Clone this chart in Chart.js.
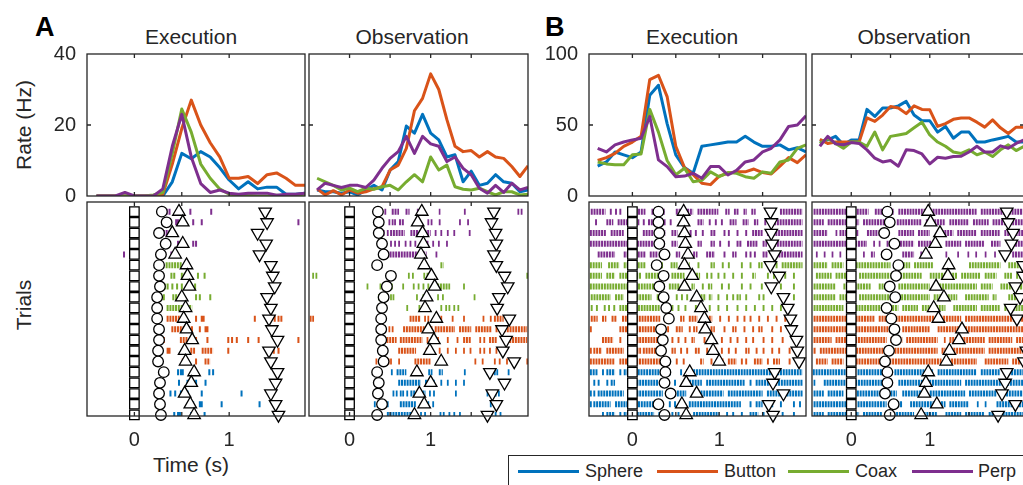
<!DOCTYPE html>
<html lang="en">
<head>
<meta charset="UTF-8">
<title>Execution / Observation</title>
<script src="https://cdn.jsdelivr.net/npm/chart.js"></script>
<style>
  html, body { margin: 0; padding: 0; overflow: hidden; background: #fff; }
  body { position: relative; width: 1023px; height: 485px; font-family: "Liberation Sans", Arial, sans-serif; color: #262626; }
  canvas { position: absolute; }
  .txt { position: absolute; white-space: nowrap; line-height: 1; }
  .title { font-size: 21px; top: 26px; transform: translateX(-50%); }
  .letter { font-size: 27px; font-weight: bold; top: 14px; color: #000; }
  .rot { font-size: 21px; transform: translate(-50%, -50%) rotate(-90deg); }
  .legend { position: absolute; left: 508px; top: 455px; width: 600px; height: 60px; border: 1px solid #262626; box-sizing: border-box; }
  .legend span.line { position: absolute; top: 14px; height: 3px; width: 61px; }
  .legend span.lbl { position: absolute; top: 6px; font-size: 18px; line-height: 1; }
</style>
</head>
<body>
  <div class="txt letter" style="left:35px">A</div>
  <div class="txt letter" style="left:545px">B</div>
  <div class="txt title" style="left:191px">Execution</div>
  <div class="txt title" style="left:412px">Observation</div>
  <div class="txt title" style="left:692px">Execution</div>
  <div class="txt title" style="left:914px">Observation</div>
  <div class="txt rot" style="left:23px; top:125px">Rate (Hz)</div>
  <div class="txt rot" style="left:23px; top:305px">Trials</div>
  <div class="txt" style="left:191px; top:454px; font-size:21px; transform:translateX(-50%)">Time (s)</div>
  <div class="legend">
    <span class="line" style="left:9px; background:#0072BD"></span><span class="lbl" style="left:76px">Sphere</span>
    <span class="line" style="left:148px; background:#D95319"></span><span class="lbl" style="left:215px">Button</span>
    <span class="line" style="left:279px; background:#77AC30"></span><span class="lbl" style="left:346px">Coax</span>
    <span class="line" style="left:403px; background:#7E2F8E"></span><span class="lbl" style="left:469px">Perp</span>
  </div>

<script>
// conditions: Sphere, Button, Coax, Perp
const colors = ['#0072BD', '#D95319', '#77AC30', '#7E2F8E'];

// PSTH time bins (s)
const tExecA = [-0.4,-0.3,-0.2,-0.1,0,0.1,0.2,0.3,0.4,0.5,0.6,0.7,0.8,0.9,1.0,1.1,1.2,1.3,1.4,1.5,1.6,1.7,1.8];
const tObs = [-0.4,-0.3,-0.2,-0.1,0,0.1,0.2,0.3,0.4,0.5,0.6,0.7,0.8,0.9,1.0,1.1,1.2,1.3,1.4,1.5,1.6,1.7,1.8,1.9,2.0,2.1,2.2];
const tExecB = [-0.4,-0.3,-0.2,-0.1,0,0.1,0.2,0.3,0.4,0.5,0.6,0.7,0.8,0.9,1.0,1.1,1.2,1.3,1.4,1.5,1.6,1.7,1.8,1.9,2.0];

// firing rates (Hz)
const rateExecA = [
  [0,0,0,0,0,0,0,0,4,12,10.5,12.5,11,8,4.5,2,4,2,2.5,2.5,0.5,0.5,0.8],
  [0,0,0,0,0,0,0,0.5,9,19,27,20,15,11,5,5,5.5,3.5,6,6.5,5,3,3],
  [0,0,0,0,0,0,0.3,1,12,24.5,18,9,5,2,0.5,0.3,0.2,0,0,0.2,0,0.3,0.5],
  [0,0,0,1,0,0,0,2,14,23,11,3.5,1,1.7,0.8,0.5,0.8,0.8,0.8,0.2,0.5,0.5,0.8]
];
const rateObsA = [
  [1.7,1.2,1.2,0.8,1.2,0.3,1.7,3,1.7,7.3,9.7,19.7,17.7,23,17.7,15.8,11,11.6,4,7,3,3.6,6,4,3.6,1.2,1.7],
  [2,0.3,1.5,0.3,1.7,0.8,1.2,2,2.6,7.3,8.7,13.4,24,27.5,34.4,30,21.5,14,12.5,12.8,11,12.5,11,10.6,8.3,5.5,8.5],
  [5,4,3,1.7,2.2,1.2,2.2,1.9,2.6,3,1.7,4,6,4,11,7.3,8.7,2.6,1.9,1.7,2.2,1.2,0.3,1.2,1.2,0.3,0.5],
  [1.7,3.6,3,2.4,3,3,2.4,4.5,7.8,10.6,12.5,16.8,12,16.8,14.7,14,9.7,11,7.8,6,2.2,0.8,3,1,3.6,1.7,2.4]
];
const rateExecB = [
  [21,24,31,29,27,31,71,78,51,29,20,16,35,36,37,38,38,42,38,35,35,36,32.5,34,31],
  [25,27,30,35,38,42,82,85,70,35,20,15,9,8,14,16,17,17,19,16.5,15.5,21,27,23.5,29],
  [24,22.6,22,22,29,29.6,61,45,25,15,19.5,10,11,17,13.6,16.5,16,13.6,12.5,17,16,24,25.4,33.6,36],
  [33.6,31,36,38,39.5,40.7,56,25.4,20.7,13.6,14,16,12.5,20.7,20.7,14.8,18,24,25.4,31,33.6,39.5,49,50,56.5]
];
const rateObsB = [
  [38,39.5,42,36,39.5,39.5,61,56,62,62,63.5,66.6,57,53,53,45,49,40.7,45,45,38,38,39.5,40.7,42,38,38],
  [40,37,38,38,38,38,55,52.5,57,63,62,58,63.5,61,60.7,49,51,54,55,55,52,48.5,53.6,48,44,48.5,48.5],
  [37,40.7,37,33.6,38,38,35,45,32.5,42,43,44,48,52,43,38,35,31,30,32.5,29,31,27.8,32.5,36,32,35],
  [35,42,36.7,36,37.6,37,32.5,26.6,24,25,21,32.5,32,29.6,22.6,27.3,26.6,27.8,28,31,35,31,31,35.3,33.6,37,39.5]
];

// raster: condition of each trial row, top to bottom
const rowCond = [3,3,3,3,3,2,2,2,2,2,1,1,1,1,1,0,0,0,0,0];
// event markers per trial (s), top to bottom
const cueTimes = [0,0,0,0,0,0,0,0,0,0,0,0,0,0,0,0,0,0,0,0];
const circExecA = [0.29,0.34,0.26,0.33,0.28,0.26,0.26,0.27,0.24,0.24,0.24,0.26,0.26,0.25,0.25,0.31,0.27,0.26,0.27,0.28];
const upExecA = [0.47,0.51,0.40,0.51,0.43,0.55,0.56,0.58,0.50,0.54,0.52,0.55,0.61,0.53,0.54,0.63,0.60,0.53,0.59,0.63];
const downExecA = [1.38,1.40,1.30,1.39,1.32,1.44,1.46,1.48,1.40,1.44,1.42,1.45,1.51,1.42,1.44,1.51,1.49,1.44,1.49,1.52];
const circObsA = [0.35,0.36,0.36,0.40,0.42,0.34,0.51,0.46,0.42,0.40,0.39,0.39,0.39,0.41,0.42,0.34,0.36,0.35,0.40,0.34];
const upObsA = [0.89,0.84,0.90,0.91,0.88,0.92,1.01,1.05,0.95,0.93,1.07,0.97,1.04,0.99,1.13,0.83,1.00,0.86,0.92,0.80];
const downObsA = [1.78,1.75,1.80,1.81,1.78,1.81,1.91,1.95,1.84,1.82,1.97,1.88,1.93,1.89,2.03,1.73,1.91,1.76,1.81,1.70];
const circExecB = [0.30,0.30,0.31,0.31,0.37,0.28,0.36,0.31,0.36,0.39,0.42,0.33,0.35,0.33,0.38,0.38,0.37,0.44,0.30,0.37];
const upExecB = [0.59,0.59,0.60,0.61,0.64,0.60,0.69,0.60,0.74,0.79,0.83,0.84,0.91,0.93,1.00,0.66,0.62,0.74,0.57,0.62];
const downExecB = [1.59,1.60,1.60,1.61,1.64,1.59,1.69,1.60,1.74,1.79,1.82,1.83,1.89,1.90,1.92,1.64,1.62,1.74,1.57,1.62];
const circObsB = [0.46,0.49,0.42,0.55,0.45,0.60,0.57,0.49,0.56,0.45,0.51,0.55,0.57,0.48,0.43,0.46,0.46,0.43,0.54,0.49];
const upObsB = [0.98,1.01,1.13,1.07,0.95,1.24,1.23,1.08,1.18,1.05,1.11,1.41,1.37,1.25,1.21,0.98,0.95,0.93,1.09,0.89];
const downObsB = [1.98,2.00,2.06,2.04,1.96,2.19,2.19,2.09,2.15,2.03,2.11,2.40,2.36,2.23,2.20,1.98,1.96,1.92,2.09,1.87];

// spikes per trial: [t] single spike, [t0, t1] burst of spikes
const spikesExecA = [
  [[0.31],[0.33],[0.36],[0.47],[0.58],[0.8]],
  [[0.43],[0.45],[0.48,0.54],[0.61],[0.7],[1.72]],
  [[0.3],[0.33],[0.36]],
  [[0.45],[0.48],[0.61],[0.64]],
  [[-0.12],[0.38],[0.42]],
  [[0.33,0.5]],
  [[0.38],[0.41],[0.49],[0.52],[0.66],[0.73]],
  [[0.31],[0.34],[0.39],[0.44],[0.49],[0.63]],
  [[0.3],[0.4,0.49],[0.64],[0.68],[0.79]],
  [[0.34,0.61]],
  [[0.34,0.48],[0.64],[0.7],[0.72],[1.26],[1.47],[1.51],[1.54]],
  [[0.39,0.62],[0.68],[0.74],[0.76]],
  [[0.3],[0.48,0.56],[0.61],[0.64],[0.76],[0.98],[1.02],[1.07],[1.19],[1.3],[1.72]],
  [[0.22],[0.27],[0.34],[0.36],[0.59,0.64],[0.71,0.83],[0.98],[1.46],[1.51]],
  [[0.27],[0.5,0.57],[0.64],[0.74,0.8]],
  [[0.45],[0.48],[0.5],[0.78],[0.82]],
  [[0.46],[0.55],[0.58],[0.64,0.67],[0.74]],
  [[0.37],[0.42],[0.48],[0.55],[0.7],[1.12]],
  [[0.59,0.63],[0.68],[0.7],[0.91],[1.31]],
  [[0.41],[0.45],[0.47],[0.59],[0.73],[1.47]]
];
const spikesObsA = [
  [[0.39],[0.43],[0.52,0.61],[0.69,0.74],[0.83],[1.1,1.12],[1.41],[2.07],[2.11]],
  [[0.48],[0.52],[0.55],[0.61,0.67],[0.96],[1.0],[1.1],[1.35],[1.45]],
  [[0.41],[0.46],[0.5,0.68],[0.75,1.0],[1.05],[1.12],[1.2],[1.28],[1.47]],
  [[0.35],[0.39,0.45],[0.5],[0.55],[0.6],[0.68],[0.74],[0.8],[0.95],[1.02],[1.09],[1.19]],
  [[0.39,0.95],[1.06]],
  [[1.12,1.16]],
  [[-0.46],[-0.42],[0.72],[0.77],[0.91],[0.95],[1.01],[2.18]],
  [[0.21],[0.37],[0.51],[0.65],[0.78],[0.84],[0.9],[0.96],[1.03],[1.08,1.24],[1.4]],
  [[0.35],[0.38],[0.46],[0.5],[0.53],[0.82],[0.9],[1.08],[1.14],[1.53]],
  [[0.7],[0.85],[0.95],[1.12],[1.18],[1.22],[1.28],[1.33]],
  [[-0.49],[-0.46],[0.74,0.88],[0.92],[0.96],[1.12],[1.26],[1.4],[1.64],[1.73],[1.78,1.9],[1.97]],
  [[0.48],[0.52],[0.66,0.95],[1.0],[1.05,1.3],[1.35,1.5],[1.55,1.75],[1.8,2.19]],
  [[0.42,0.58],[0.62,0.9],[0.95],[1.08],[1.2],[1.32],[1.4,1.5],[1.6],[1.65],[1.72,1.82],[1.9,2.19]],
  [[0.6,0.82],[0.94],[1.0],[1.1],[1.2],[1.3],[1.4],[1.48],[1.6],[1.65],[1.72],[1.8]],
  [[0.32],[0.37],[0.47],[0.5],[0.6],[0.8,1.0],[1.12],[1.54],[1.63],[1.78],[1.84],[1.93],[2.18]],
  [[0.51],[0.58,0.7],[0.8],[0.97],[1.0],[1.1,1.15],[1.41],[1.69],[1.73],[1.78],[1.81],[1.95]],
  [[0.6,0.88],[0.93,1.05],[1.12],[1.2],[1.3],[1.4]],
  [[0.53],[0.57],[0.62],[0.65],[0.7],[0.75,0.82],[0.9,0.94],[0.98],[1.03],[1.3],[1.69],[1.75],[1.79],[1.83]],
  [[0.3],[0.46],[0.62,0.82],[0.93],[0.96],[1.02],[1.73],[1.77]],
  [[0.46,0.8],[0.87],[0.92],[1.11],[1.15],[1.22],[1.28],[1.35],[1.68],[1.7],[1.74],[1.79],[1.85]]
];
const spikesExecB = [
  [[-0.48,-0.31],[-0.26],[-0.2],[-0.15],[0.0,0.15],[0.22,0.38],[0.5,0.58],[0.63,0.7],[0.75,0.99],[1.07,1.12],[1.17],[1.2],[1.28,1.32],[1.37,1.42],[1.55,1.62],[1.7,1.96]],
  [[-0.43],[-0.3,-0.22],[-0.17,-0.05],[0.03,0.08],[0.12],[0.18,0.3],[0.36],[0.43],[0.58],[0.75,0.82],[0.88],[0.95],[1.02],[1.12,1.2],[1.27,1.34],[1.4,1.45],[1.52],[1.6,1.96]],
  [[-0.49,-0.3],[-0.25,-0.1],[-0.02,0.06],[0.12,0.25],[0.28,0.38],[0.45,0.52],[0.57,0.6],[0.66],[0.72],[0.8],[0.9,0.96],[1.05],[1.1],[1.2],[1.3],[1.38,1.5],[1.55,1.96]],
  [[-0.49,-0.05],[0.02,0.3],[0.35],[0.45,0.52],[0.6,0.65],[0.75,0.8],[0.9,0.95],[1.0],[1.1],[1.2,1.26],[1.32,1.44],[1.5,1.55],[1.6,1.96]],
  [[-0.4,-0.2],[-0.1,0.15],[0.2,0.3],[0.35,0.42],[0.5,0.55],[0.62],[0.7,0.75],[0.85,0.95],[1.05],[1.15,1.2],[1.3],[1.35],[1.4],[1.5,1.56],[1.65,1.96]],
  [[-0.49,-0.35],[-0.28,-0.15],[-0.1,0.15],[0.25],[0.33],[0.44,0.52],[0.62,0.66],[0.75],[0.9,0.95],[1.03],[1.1],[1.25],[1.35],[1.45,1.5],[1.65],[1.72,1.96]],
  [[-0.49,-0.35],[-0.3,-0.2],[-0.15,0.1],[0.15,0.3],[0.38],[0.45,0.6],[0.7,0.78],[0.85],[0.9],[0.98],[1.05],[1.15],[1.25],[1.38,1.42],[1.55],[1.62],[1.75],[1.85]],
  [[-0.49,-0.05],[0.0,0.25],[0.35],[0.42,0.55],[0.62],[0.68,0.72],[0.8],[0.87,0.92],[1.02,1.05],[1.1],[1.25],[1.35],[1.48],[1.6],[1.7],[1.85]],
  [[-0.48,-0.25],[-0.2,-0.1],[-0.05,0.22],[0.28,0.4],[0.5],[0.56],[0.62],[0.72,0.85],[0.88,0.92],[0.98],[1.08],[1.15],[1.2,1.25],[1.3],[1.45],[1.5],[1.72],[1.85]],
  [[-0.48],[-0.42],[-0.33],[-0.28],[-0.22],[-0.15,-0.05],[0.0,0.32],[0.45],[0.52],[0.6],[0.72],[0.8],[0.88],[0.98],[1.08],[1.2],[1.3],[1.4],[1.5],[1.6],[1.7]],
  [[-0.48,-0.4],[-0.35,-0.3],[-0.24,-0.18],[-0.12,0.32],[0.55,0.6],[0.65,0.75],[0.8],[0.88,0.92],[1.0],[1.1],[1.2],[1.28],[1.35],[1.45],[1.55],[1.65],[1.75,1.85]],
  [[-0.49],[-0.15,0.3],[0.4],[0.5,0.58],[0.65],[0.7,0.75],[0.8],[0.9,0.95],[1.05],[1.15,1.2],[1.28],[1.38],[1.45,1.5],[1.6],[1.7],[1.8]],
  [[-0.35,-0.22],[-0.15],[-0.05,0.3],[0.45],[0.52],[0.6],[0.68,0.72],[0.82],[0.9],[1.02],[1.12],[1.2],[1.3],[1.38],[1.5],[1.6],[1.72],[1.85]],
  [[-0.49],[-0.45,-0.35],[-0.3,-0.1],[-0.05,0.1],[0.12,0.38],[0.45,0.5],[0.55],[0.62],[0.72,0.78],[0.85],[0.95],[1.02],[1.1],[1.18],[1.3,1.35],[1.42],[1.5],[1.6],[1.68],[1.8]],
  [[-0.49,-0.2],[-0.15,0.4],[0.5],[0.58],[0.78,0.82],[0.9],[1.0,1.05],[1.1,1.2],[1.25],[1.3],[1.4,1.5],[1.55],[1.62,1.7],[1.8],[1.9]],
  [[-0.49,-0.4],[-0.35],[-0.3,-0.2],[-0.15],[-0.1,0.35],[0.42],[0.55],[0.62],[0.7,1.96]],
  [[-0.45],[-0.4],[-0.3],[-0.25,-0.2],[-0.05,0.3],[0.4],[0.48],[0.62,0.8],[0.85,1.3],[1.35],[1.42,1.96]],
  [[-0.49],[-0.45],[-0.4,-0.1],[-0.05,0.35],[0.42],[0.48,0.62],[0.72,1.05],[1.1,1.5],[1.55,1.96]],
  [[-0.49],[-0.45,-0.25],[-0.2,-0.05],[0.0,0.25],[0.32],[0.42],[0.48],[0.55],[0.65,1.25],[1.35],[1.42,1.5],[1.6],[1.7],[1.85],[1.92]],
  [[-0.35],[-0.3,-0.2],[-0.15],[-0.1,0.0],[0.05,0.25],[0.3],[0.45],[0.52],[0.62],[0.7,1.0],[1.08],[1.15],[1.25],[1.35,1.45],[1.5],[1.6],[1.72],[1.85]]
];
const spikesObsB = [
  [[-0.48,0.0],[0.07,0.22],[0.3,0.55],[0.6,0.95],[1.0,1.6],[1.65,2.19]],
  [[-0.48,-0.35],[-0.3,0.1],[0.15,0.5],[0.58,0.9],[0.95,1.2],[1.25,1.5],[1.55,1.75],[1.8,2.19]],
  [[-0.48,-0.3],[-0.2],[-0.15,0.1],[0.2,0.35],[0.6,0.8],[0.85,1.0],[1.15,1.3],[1.35,1.6],[1.65,1.9],[1.95,2.19]],
  [[-0.48,0.0],[0.05,0.2],[0.28],[0.35],[0.45,0.55],[0.62,0.8],[0.85,1.1],[1.2,1.4],[1.45,1.7],[1.78,1.9],[2.05,2.19]],
  [[-0.45],[-0.35],[-0.25],[-0.15],[-0.05],[0.15],[0.25,0.3],[0.38],[0.65,0.8],[0.88,1.0],[1.2],[1.35],[1.48],[1.58],[1.7],[1.82],[1.95],[2.05,2.19]],
  [[-0.48,-0.3],[-0.25,-0.1],[-0.05,0.5],[0.55,0.75],[0.8,1.05],[1.2],[1.5,1.9],[2.0,2.19]],
  [[-0.45,-0.25],[-0.2,0.05],[0.1,0.5],[0.55,0.9],[1.0,1.35],[1.4,1.65],[1.7,1.85],[1.95,2.05],[2.1,2.19]],
  [[-0.48,-0.2],[-0.1,0.25],[0.35,0.5],[0.6,1.0],[1.05,1.6],[1.65,1.8],[1.9,2.19]],
  [[-0.48,-0.2],[-0.15,0.05],[0.1,0.55],[0.6,1.0],[1.05,1.35],[1.45,1.75],[1.8,1.85],[2.0,2.19]],
  [[-0.48,-0.1],[-0.05,0.6],[0.65,0.85],[0.9,1.2],[1.3,1.6],[1.65,1.9],[1.95,2.19]],
  [[-0.48,0.3],[0.35,1.4],[1.45,2.19]],
  [[-0.48,0.6],[0.65,1.0],[1.1,1.4],[1.45,2.19]],
  [[-0.48,-0.25],[-0.2,0.45],[0.5,0.65],[0.7,1.1],[1.18],[1.25,1.7],[1.75,2.05],[2.1,2.19]],
  [[-0.48,-0.45],[-0.4,0.5],[0.55,1.1],[1.15,1.2],[1.3,1.7],[1.75,2.19]],
  [[-0.45,-0.3],[-0.25,-0.1],[-0.05,1.15],[1.2,1.6],[1.7,2.0],[2.05,2.19]],
  [[-0.49,0.0],[0.08,0.5],[0.55,1.05],[1.1,1.6],[1.65,1.9],[2.0,2.19]],
  [[-0.48],[-0.35,-0.05],[0.05,0.5],[0.6,1.4],[1.45,2.19]],
  [[-0.48,-0.35],[-0.3,-0.1],[0.0,0.58],[0.65,0.9],[1.0,1.45],[1.5,1.85],[1.9,2.19]],
  [[-0.48,0.0],[0.08,0.45],[0.55,0.65],[0.75,1.2],[1.25,1.5],[1.6],[1.7],[1.85,2.19]],
  [[-0.48,-0.35],[-0.3,0.1],[0.15,0.4],[0.5,0.8],[0.85,1.1],[1.2,1.4],[1.45,1.7],[1.75,2.19]]
];

const ink = '#262626';
const tickFont = { family: '"Liberation Sans", Arial, sans-serif', size: 20 };

// MATLAB-like box with inward ticks
const boxPlugin = {
  id: 'matlabBox',
  afterDatasetsDraw(chart, args, opts) {
    const { ctx, chartArea: a, scales } = chart;
    const len = 4;
    ctx.save();
    ctx.strokeStyle = ink;
    ctx.lineWidth = 1.3;
    ctx.strokeRect(a.left, a.top, a.right - a.left, a.bottom - a.top);
    ctx.beginPath();
    scales.x.ticks.forEach(t => {
      const px = scales.x.getPixelForValue(t.value);
      if (px <= a.left + 1 || px >= a.right - 1) return;
      ctx.moveTo(px, a.bottom); ctx.lineTo(px, a.bottom - len);
      ctx.moveTo(px, a.top); ctx.lineTo(px, a.top + len);
    });
    if (opts.yTicks) {
      scales.y.ticks.forEach(t => {
        const py = scales.y.getPixelForValue(t.value);
        if (py <= a.top + 1 || py >= a.bottom - 1) return;
        ctx.moveTo(a.left, py); ctx.lineTo(a.left + len, py);
        ctx.moveTo(a.right, py); ctx.lineTo(a.right - len, py);
      });
    }
    ctx.stroke();
    ctx.restore();
  }
};

function rateSets(times, series) {
  return series.map((vals, c) => ({
    data: times.map((t, i) => ({ x: t, y: vals[i] })),
    borderColor: colors[c],
    borderWidth: 3,
    borderJoinStyle: 'round',
    pointRadius: 0,
    pointHoverRadius: 0,
    tension: 0,
    order: 4 - c
  }));
}

function rasterSets(rows, circ, up, down) {
  const sets = [];
  for (let c = 0; c < 4; c++) {
    const pts = [];
    rows.forEach((runs, k) => {
      if (rowCond[k] !== c) return;
      const y = 19 - k;
      runs.forEach(r => {
        const a = r[0], b = r.length > 1 ? r[1] : r[0] + 0.022;
        pts.push({ x: a, y }, { x: b, y }, { x: b, y: null });
      });
    });
    sets.push({
      data: pts, borderColor: colors[c], borderWidth: 6, borderDash: [2, 0.8],
      borderCapStyle: 'butt', pointRadius: 0, pointHoverRadius: 0, spanGaps: false, tension: 0, order: 10
    });
  }
  const marker = (times, style, r, rot) => ({
    data: times.map((t, k) => ({ x: t, y: 19 - k })),
    showLine: false, pointStyle: style, pointRadius: r, pointHoverRadius: r, pointRotation: rot,
    pointBorderColor: '#000', pointBackgroundColor: '#fff', pointBorderWidth: 1.3,
    clip: false, order: 1
  });
  sets.push(marker(cueTimes, 'rect', 6.7, 0));
  sets.push(marker(circ, 'circle', 5.3, 0));
  sets.push(marker(up, 'triangle', 7.2, 0));
  sets.push(marker(down, 'triangle', 7.2, 180));
  return sets;
}

function addChart(box, pad, datasets, xo, yo) {
  const cv = document.createElement('canvas');
  const w = box.r - box.l + pad.l + pad.r;
  const h = box.b - box.t + pad.t + pad.b;
  cv.width = w; cv.height = h;
  cv.style.left = (box.l - pad.l) + 'px';
  cv.style.top = (box.t - pad.t) + 'px';
  cv.style.width = w + 'px';
  cv.style.height = h + 'px';
  document.body.appendChild(cv);
  return new Chart(cv, {
    type: 'line',
    data: { datasets },
    options: {
      responsive: false,
      animation: false,
      events: [],
      layout: { autoPadding: false, padding: { top: pad.t, right: pad.r, left: 0, bottom: 0 } },
      plugins: { legend: { display: false }, tooltip: { enabled: false }, matlabBox: { yTicks: yo.boxTicks } },
      scales: {
        x: {
          type: 'linear', min: xo.min, max: xo.max,
          afterFit: s => { s.height = pad.b; },
          grid: { display: false, drawTicks: false },
          border: { display: false },
          ticks: {
            display: xo.labels.length > 0, stepSize: 0.5, autoSkip: false,
            maxRotation: 0, minRotation: 0, padding: 12, color: ink, font: tickFont,
            callback: v => xo.labels.includes(v) ? String(v) : ''
          }
        },
        y: {
          type: 'linear', min: yo.min, max: yo.max,
          afterFit: s => { s.width = pad.l; },
          grid: { display: false, drawTicks: false },
          border: { display: false },
          ticks: {
            display: yo.labels, stepSize: yo.step, padding: 11, color: ink, font: tickFont
          }
        }
      }
    },
    plugins: [boxPlugin]
  });
}

const topT = 54, topB = 196, rasT = 202, rasB = 416;
const panels = [
  { l: 87, r: 305, xmin: -0.5, xmax: 1.8, xl: [0, 1], ymax: 40, ystep: 20, ylab: true, padL: 87,
    rate: rateSets(tExecA, rateExecA), ras: rasterSets(spikesExecA, circExecA, upExecA, downExecA) },
  { l: 309, r: 528, xmin: -0.5, xmax: 2.2, xl: [0, 1, 2], ymax: 40, ystep: 20, ylab: false, padL: 2,
    rate: rateSets(tObs, rateObsA), ras: rasterSets(spikesObsA, circObsA, upObsA, downObsA) },
  { l: 589, r: 806, xmin: -0.5, xmax: 2.0, xl: [0, 1], ymax: 100, ystep: 50, ylab: true, padL: 60,
    rate: rateSets(tExecB, rateExecB), ras: rasterSets(spikesExecB, circExecB, upExecB, downExecB) },
  { l: 812, r: 1024, xmin: -0.5, xmax: 2.2, xl: [0, 1, 2], ymax: 100, ystep: 50, ylab: false, padL: 2,
    rate: rateSets(tObs, rateObsB), ras: rasterSets(spikesObsB, circObsB, upObsB, downObsB) }
];

panels.forEach(p => {
  addChart({ l: p.l, r: p.r, t: topT, b: topB }, { l: p.padL, r: 4, t: 24, b: 24 }, p.rate,
    { min: p.xmin, max: p.xmax, labels: [] },
    { min: 0, max: p.ymax, step: p.ystep, labels: p.ylab, boxTicks: true });
  addChart({ l: p.l, r: p.r, t: rasT, b: rasB }, { l: 20, r: 20, t: 4, b: 40 }, p.ras,
    { min: p.xmin, max: p.xmax, labels: p.xl },
    { min: -0.1, max: 19.9, step: 1, labels: false, boxTicks: false });
});
</script>
</body>
</html>
